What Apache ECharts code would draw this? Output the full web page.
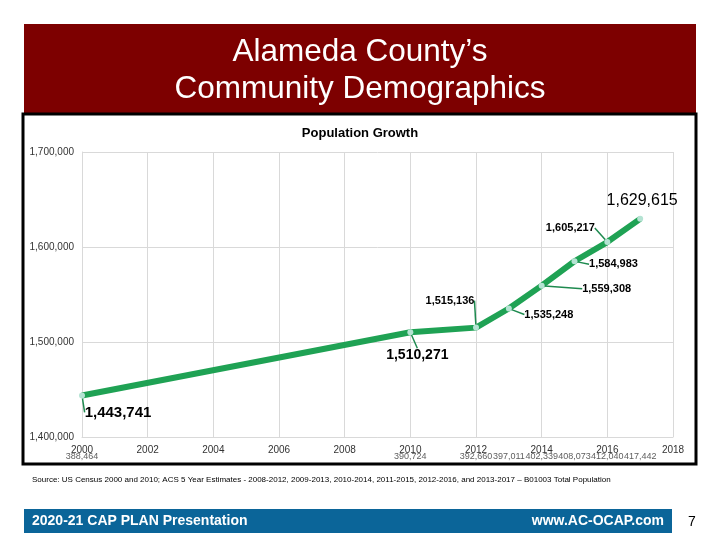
<!DOCTYPE html>
<html>
<head>
<meta charset="utf-8">
<script src="https://cdn.jsdelivr.net/npm/echarts@6/dist/echarts.min.js"></script>
<style>html,body{margin:0;padding:0;background:#fff}#c{width:720px;height:540px}</style>
</head>
<body>
<div id="c"></div>
<script>
const years = [2000, 2010, 2012, 2013, 2014, 2015, 2016, 2017];
const population = [1443741, 1510271, 1515136, 1535248, 1559308, 1584983, 1605217, 1629615];
const secondaryLabels = ['388,464', '390,724', '392,660', '397,011', '402,339', '408,073', '412,040', '417,442'];
const yTicks = { min: 1400000, max: 1700000, interval: 100000 };
const xTicks = { min: 2000, max: 2018, interval: 2 };

// label offsets (presentation only)
const labelOffsets = [[36, 17], [7, 23], [-26, -27], [40, 6], [65, 3], [39, 3], [-37, -14], [2, -18]];
const labelStyles = [
  { fontSize: 15, fontWeight: 'bold' },
  { fontSize: 14, fontWeight: 'bold' },
  { fontSize: 11, fontWeight: 'bold' },
  { fontSize: 11, fontWeight: 'bold' },
  { fontSize: 11, fontWeight: 'bold' },
  { fontSize: 11, fontWeight: 'bold' },
  { fontSize: 11, fontWeight: 'bold' },
  { fontSize: 16, fontWeight: 'normal' }
];

const fmt = v => v.toLocaleString('en-US');
const chart = echarts.init(document.getElementById('c'));
const FONT = '"Liberation Sans", Arial, sans-serif';

chart.setOption({
  animation: false,
  textStyle: { fontFamily: FONT },
  title: {
    text: 'Population Growth',
    left: 'center',
    top: 122,
    textStyle: { fontSize: 13, fontWeight: 'bold', color: '#000', fontFamily: FONT }
  },
  grid: { left: 82, right: 47, top: 152, bottom: 103 },
  xAxis: {
    type: 'value',
    min: xTicks.min, max: xTicks.max, interval: xTicks.interval,
    axisLine: { show: true, lineStyle: { color: '#d9d9d9' } },
    axisTick: { show: false },
    axisLabel: { color: '#333', fontSize: 10, margin: 8, formatter: v => String(v) },
    splitLine: { show: true, lineStyle: { color: '#d9d9d9' } }
  },
  yAxis: {
    type: 'value',
    min: yTicks.min, max: yTicks.max, interval: yTicks.interval,
    axisLine: { show: true, lineStyle: { color: '#d9d9d9' } },
    axisTick: { show: false },
    axisLabel: { color: '#333', fontSize: 10, margin: 8, formatter: v => fmt(v) },
    splitLine: { show: true, lineStyle: { color: '#d9d9d9' } }
  },
  series: [
    {
      type: 'line',
      data: years.map((y, i) => ({
        value: [y, population[i]],
        label: labelStyles[i],
        labelLine: { show: i !== 7 }
      })),
      lineStyle: { color: '#1fa254', width: 6 },
      itemStyle: { color: '#b5e3d3' },
      symbol: 'circle',
      symbolSize: 6,
      z: 3,
      label: {
        show: true,
        position: 'inside',
        color: '#000',
        fontFamily: FONT,
        formatter: p => fmt(p.value[1])
      },
      labelLine: { show: true, lineStyle: { color: '#1e8a4f', width: 1.5 } },
      labelLayout: p => ({ dx: labelOffsets[p.dataIndex][0], dy: labelOffsets[p.dataIndex][1] })
    },
    {
      type: 'scatter',
      silent: true,
      symbolSize: 0,
      data: years.map((y, i) => [y, yTicks.min]),
      label: {
        show: true,
        position: 'inside',
        offset: [0, 20],
        color: '#333',
        fontSize: 9,
        fontFamily: FONT,
        formatter: p => secondaryLabels[p.dataIndex]
      }
    }
  ],
  graphic: [
    { type: 'rect', shape: { x: 24, y: 24, width: 672, height: 90 }, style: { fill: '#7d0000' }, z: 1 },
    { type: 'text', x: 360, y: 52, style: { text: 'Alameda County\u2019s', fill: '#fff', font: '31.5px ' + FONT, textAlign: 'center', textVerticalAlign: 'middle' }, z: 2 },
    { type: 'text', x: 360, y: 89, style: { text: 'Community Demographics', fill: '#fff', font: '31.5px ' + FONT, textAlign: 'center', textVerticalAlign: 'middle' }, z: 2 },
    { type: 'rect', shape: { x: 23, y: 114, width: 673, height: 350 }, style: { fill: 'none', stroke: '#000', lineWidth: 3 }, z: 10 },
    { type: 'text', x: 32, y: 480, style: { text: 'Source: US Census 2000 and 2010; ACS 5 Year Estimates - 2008-2012, 2009-2013, 2010-2014, 2011-2015, 2012-2016, and 2013-2017 \u2013 B01003 Total Population', fill: '#000', font: '8px ' + FONT, textVerticalAlign: 'middle' } },
    { type: 'rect', shape: { x: 24, y: 509, width: 648, height: 24 }, style: { fill: '#0b6599' } },
    { type: 'text', x: 32, y: 521, style: { text: '2020-21 CAP PLAN Presentation', fill: '#fff', font: 'bold 14px ' + FONT, textVerticalAlign: 'middle' } },
    { type: 'text', x: 664, y: 521, style: { text: 'www.AC-OCAP.com', fill: '#fff', font: 'bold 14px ' + FONT, textAlign: 'right', textVerticalAlign: 'middle' } },
    { type: 'text', x: 692, y: 522, style: { text: '7', fill: '#000', font: '14px ' + FONT, textAlign: 'center', textVerticalAlign: 'middle' } }
  ]
});
</script>
</body>
</html>
